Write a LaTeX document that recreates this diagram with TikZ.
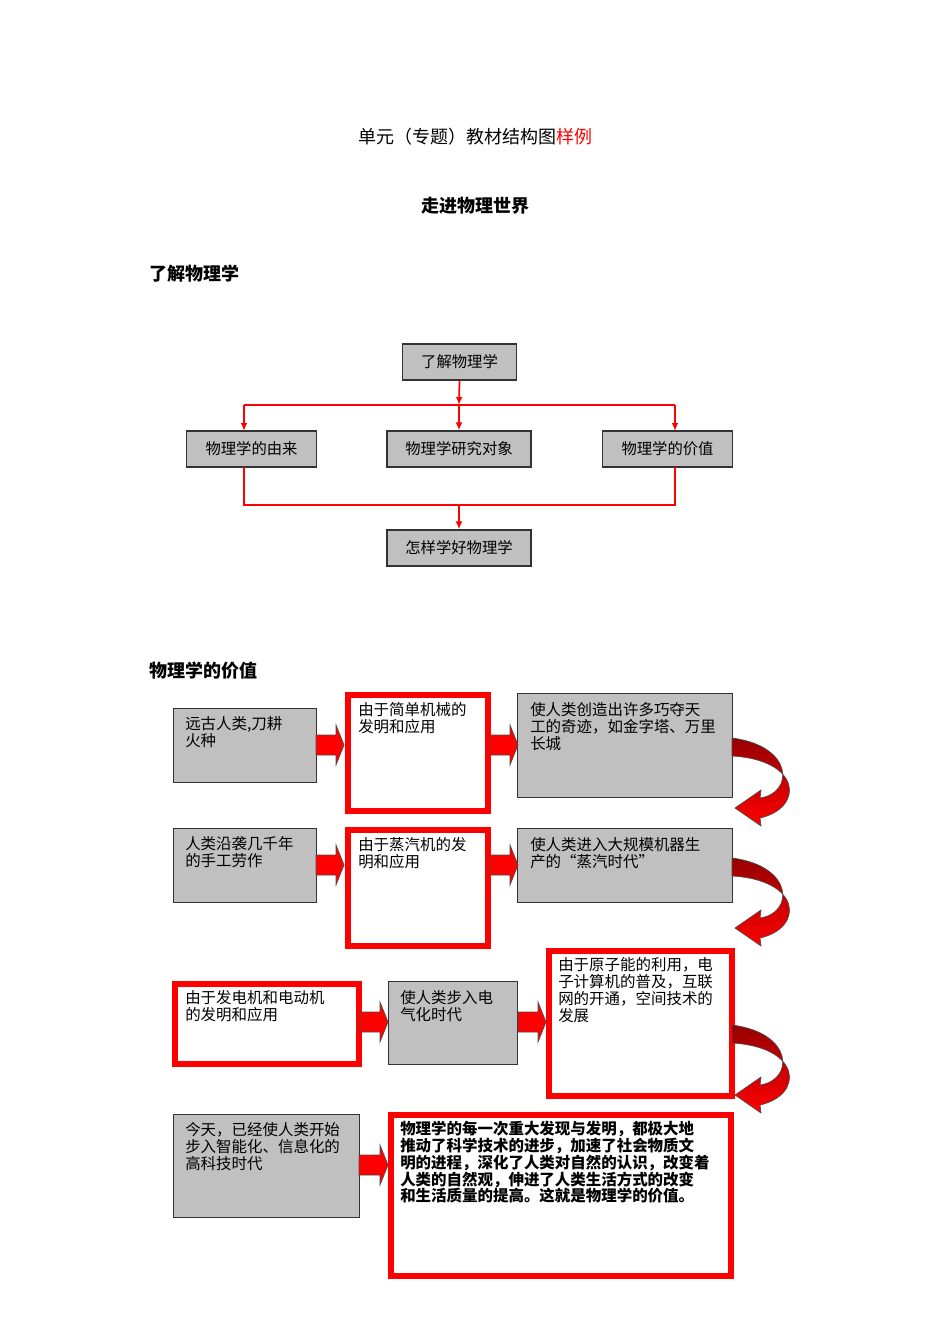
\documentclass[tikz,border=0pt]{standalone}
\usepackage{fontspec}
\setmainfont{Noto Sans CJK SC}
\usetikzlibrary{calc,arrows.meta}
\definecolor{gb}{RGB}{192,192,192}
\definecolor{rd}{RGB}{255,0,0}
\definecolor{drd}{RGB}{150,0,0}
\tikzset{
  px/.style={x=0.75pt,y=-0.75pt},
  gbox/.style={draw=black!80,fill=gb,line width=0.8pt,anchor=north west,inner sep=0pt},
  rbox/.style={draw=rd,fill=white,line width=4.5pt,anchor=north west,inner sep=0pt},
  tbox/.style={draw=black!80,fill=gb,line width=0.8pt,inner sep=0pt,minimum height=27pt,font=\fontsize{11.5}{13}\selectfont},
  txt/.style={anchor=north west,align=left,inner sep=0pt,font=\fontsize{11.6}{12.8}\selectfont},
  barr/.style={fill=rd,draw=black!70,line width=0.5pt},
  rl/.style={draw=rd,line width=1.3pt},
  ra/.style={rl,-{Latex[length=6pt,width=5pt]}},
  curv/.style={top color=drd,bottom color=rd,draw=black!70,line width=0.5pt}
}
\newcommand{\curved}[2]{% x, y top
  \path[curv] (#1,#2) .. controls (#1+62,#2+8) and (#1+62,#2+55) .. (#1+28,#2+60)
   -- (#1+29,#2+52) -- (#1+3,#2+70) -- (#1+29,#2+88) -- (#1+28,#2+80)
   .. controls (#1+72,#2+70) and (#1+70,#2+22) .. (#1,#2+18) -- cycle;}
\newcommand{\blockarrow}[3]{% x0 x1 y
  \path[barr] (#1,#3-10) -- (#2-8,#3-10) -- (#2-8,#3-20) -- (#2,#3) -- (#2-8,#3+20) -- (#2-8,#3+10) -- (#1,#3+10) -- cycle;}
\begin{document}
\begin{tikzpicture}[px]
\path[use as bounding box] (0,0) rectangle (950,1344);
\node[font=\fontsize{13.5}{15}\selectfont] (t1) at (475,137) {单元（专题）教材结构图\textcolor{rd}{样例}};
\node[font=\bfseries\fontsize{13.5}{15}\selectfont] (t2) at (475,206) {走进物理世界};
\node[anchor=west,font=\bfseries\fontsize{13.5}{15}\selectfont] (t3) at (145,274) {了解物理学};
\node[anchor=west,font=\bfseries\fontsize{13.5}{15}\selectfont] (t4) at (145,671) {物理学的价值};
% top diagram
\node[tbox,minimum width=86pt] (a) at (459.5,362) {了解物理学};
\node[tbox,minimum width=97pt] (b1) at (251.5,449) {物理学的由来};
\node[tbox,minimum width=108pt] (b2) at (459,449) {物理学研究对象};
\node[tbox,minimum width=97pt] (b3) at (667.5,449) {物理学的价值};
\node[tbox,minimum width=108pt] (c) at (459,548) {怎样学好物理学};
\coordinate (j1) at (459,405);
\coordinate (j2) at (459,505);
\draw[ra] (a.south) -- (j1);
\draw[rl] (244,405) -- (675,405);
\draw[ra] (244,405) -- (244,431);
\draw[ra] (j1) -- (b2.north);
\draw[ra] (675,405) -- (675,431);
\draw[rl] (244,467) -- (244,505) -- (675,505) -- (675,467);
\draw[ra] (j2) -- (c.north);
% row 1
\node[gbox,minimum width=107pt,minimum height=55.5pt] (r11) at (173,708) {};
\node[txt] at (185,716) {远古人类,刀耕\\火种};
\node[rbox,minimum width=105pt,minimum height=87pt] (r12) at (345,692) {};
\node[txt] at (358,702) {由于简单机械的\\发明和应用};
\node[gbox,minimum width=161pt,minimum height=78pt] (r13) at (517,693) {};
\node[txt] at (530,702) {使人类创造出许多巧夺天\\工的奇迹，如金字塔、万里\\长城};
\blockarrow{316}{344}{745}
\blockarrow{490}{518}{745}
\curved{732}{738}
% row 2
\node[gbox,minimum width=107pt,minimum height=55.5pt] (r21) at (173,828) {};
\node[txt] at (185,836) {人类沿袭几千年\\的手工劳作};
\node[rbox,minimum width=105pt,minimum height=87pt] (r22) at (345,827) {};
\node[txt] at (358,837) {由于蒸汽机的发\\明和应用};
\node[gbox,minimum width=161pt,minimum height=55.5pt] (r23) at (517,828) {};
\node[txt] at (530,837) {使人类进入大规模机器生\\产的“蒸汽时代”};
\blockarrow{316}{344}{865}
\blockarrow{490}{518}{865}
\curved{732}{858}
% row 3
\node[rbox,minimum width=138pt,minimum height=60pt] (r31) at (172,981) {};
\node[txt] at (185,990) {由于发电机和电动机\\的发明和应用};
\node[gbox,minimum width=96.5pt,minimum height=62pt] (r32) at (388,981) {};
\node[txt] at (400,990) {使人类步入电\\气化时代};
\node[rbox,minimum width=137pt,minimum height=109pt] (r33) at (546,948) {};
\node[txt] at (558,957) {由于原子能的利用，电\\子计算机的普及，互联\\网的开通，空间技术的\\发展};
\blockarrow{360}{388}{1022}
\blockarrow{518}{546}{1022}
\curved{732}{1025}
% row 4
\node[gbox,minimum width=139.5pt,minimum height=77pt] (r41) at (173,1114) {};
\node[txt] at (185,1122) {今天，已经使人类开始\\步入智能化、信息化的\\高科技时代};
\node[rbox,minimum width=255pt,minimum height=121pt] (r42) at (388,1112) {};
\node[txt,font=\bfseries\fontsize{11.6}{12.6}\selectfont] at (400,1121) {物理学的每一次重大发现与发明，都极大地\\推动了科学技术的进步，加速了社会物质文\\明的进程，深化了人类对自然的认识，改变着\\人类的自然观，伸进了人类生活方式的改变\\和生活质量的提高。这就是物理学的价值。};
\blockarrow{359}{388}{1165}
\end{tikzpicture}
\end{document}
